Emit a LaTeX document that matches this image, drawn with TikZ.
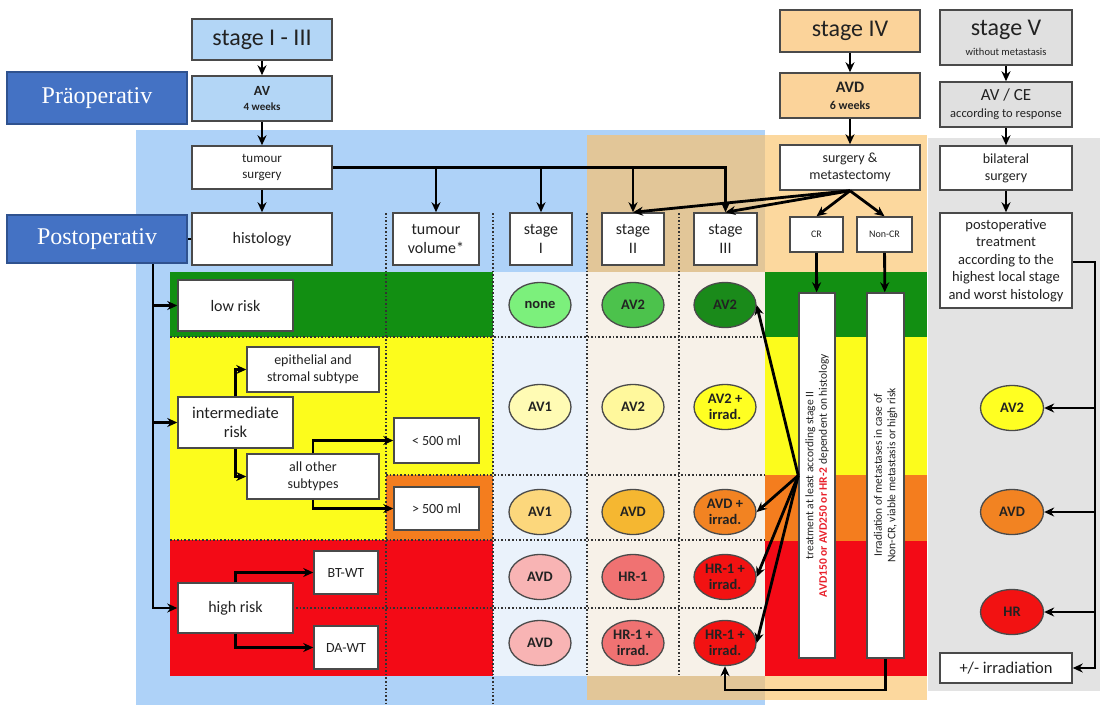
\documentclass[tikz,border=0pt]{standalone}
\usepackage{fontspec}
\setmainfont{Carlito}
\newfontfamily\serifbox{Liberation Serif}
\usetikzlibrary{arrows.meta,shapes.geometric}
\definecolor{bgBlue}{HTML}{AED2F8}
\definecolor{bgTan}{HTML}{E2C698}
\definecolor{bgPeach}{HTML}{FCD89E}
\definecolor{bgGrey}{HTML}{E3E3E3}
\definecolor{bandGreen}{HTML}{128F12}
\definecolor{bandYellow}{HTML}{FCFC1C}
\definecolor{bandOrange}{HTML}{F47D1E}
\definecolor{bandRed}{HTML}{F30A16}
\definecolor{colOne}{HTML}{EAF2FB}
\definecolor{colTwo}{HTML}{F7F1E8}
\definecolor{boxBlue}{HTML}{B3D6F6}
\definecolor{boxPeach}{HTML}{FBD39A}
\definecolor{boxGrey}{HTML}{E0E0E0}
\definecolor{labBlue}{HTML}{4472C4}
\definecolor{labEdge}{HTML}{2F528F}
\definecolor{edgeGrey}{HTML}{4A4A4A}
\definecolor{txt}{HTML}{222222}
\definecolor{dotGrey}{HTML}{333333}
\definecolor{redTxt}{HTML}{E8202A}
\definecolor{eGreenA}{HTML}{7CF07C}
\definecolor{eGreenB}{HTML}{4CC24C}
\definecolor{eGreenC}{HTML}{1A8A1A}
\definecolor{eYelA}{HTML}{FFFBB4}
\definecolor{eYelB}{HTML}{FFF89C}
\definecolor{eYelC}{HTML}{FFFF22}
\definecolor{eOrA}{HTML}{FCD77C}
\definecolor{eOrB}{HTML}{F5B731}
\definecolor{eOrC}{HTML}{F28322}
\definecolor{eRedA}{HTML}{F8B4B4}
\definecolor{eRedB}{HTML}{F07272}
\definecolor{eRedC}{HTML}{F21212}
\tikzset{
  box/.style={draw=edgeGrey, line width=1.5pt, fill=white, align=center, inner sep=1pt, text=txt},
  lab/.style={draw=labEdge, line width=1.3pt, fill=labBlue, text=white, inner sep=0pt,
    font=\serifbox\fontsize{24}{28}\selectfont, minimum width=180},
  ell/.style={ellipse, draw=edgeGrey, line width=1.3pt, minimum width=62, minimum height=45,
    inner sep=0pt, align=center, text=txt, font=\fontsize{14.5}{16}\selectfont\bfseries},
  arr/.style={-{Stealth[length=10pt,width=9pt]}, line width=2.8pt},
  dots/.style={dotted, line width=1.6pt, draw=dotGrey},
  fa/.style={font=\fontsize{24}{28}\selectfont},
  fb/.style={font=\fontsize{16}{18.5}\selectfont},
  fc/.style={font=\fontsize{14}{17}\selectfont},
  fd/.style={font=\fontsize{13}{16}\selectfont},
  fe/.style={font=\fontsize{10}{12}\selectfont}
}
\begin{document}
\begin{tikzpicture}[x=1pt,y=-1pt]
\useasboundingbox (0,0) rectangle (1100,705);
\fill[white] (0,0) rectangle (1100,705);
% background regions
\fill[bgBlue] (136,130) rectangle (765,705);
\fill[bgTan] (587,135) rectangle (765,700);
\fill[bgPeach] (765,135) rectangle (927,700);
\fill[bgGrey] (928,138) rectangle (1100,691);
% risk bands
\fill[bandGreen] (170,272) rectangle (493,337);
\fill[bandYellow] (170,337) rectangle (386,540);
\fill[bandYellow] (386,337) rectangle (493,475);
\fill[bandOrange] (386,475) rectangle (493,540);
\fill[bandRed] (170,540) rectangle (493,676);
\fill[bandGreen] (765,272) rectangle (927,337);
\fill[bandYellow] (765,337) rectangle (927,475);
\fill[bandOrange] (765,475) rectangle (927,541);
\fill[bandRed] (765,541) rectangle (927,676);
\fill[colOne] (493,272) rectangle (587,676);
\fill[colTwo] (587,272) rectangle (765,676);
% dotted grid
\draw[dots] (386,213) -- (386,705);
\draw[dots] (493,213) -- (493,705);
\draw[dots] (587,213) -- (587,676);
\draw[dots] (679,213) -- (679,676);
\draw[dots] (170,337) -- (765,337);
\draw[dots] (386,475) -- (765,475);
\draw[dots] (170,540) -- (765,540);
\draw[dots] (170,608) -- (765,608);

% top left column
\node[box, fill=boxBlue, fa, minimum width=140, minimum height=41] (s13) at (262,39.5) {stage I - III};
\node[box, fill=boxBlue, minimum width=140, minimum height=45, font=\fontsize{14}{15}\selectfont\bfseries] (av) at (262,98.5) {AV\\{\fontsize{11}{13}\selectfont 4 weeks}};
\node[box, fd, minimum width=140, minimum height=43] (ts) at (262,167.5) {tumour\\surgery};
\node[box, fb, minimum width=140, minimum height=52] (hist) at (262,239) {histology};
\node[lab, minimum height=52] (pre) at (97,98) {Präoperativ};

% header row
\node[box, fb, minimum width=86, minimum height=52] (tv) at (436,239) {tumour\\volume*};
\node[box, fb, minimum width=62, minimum height=52] (st1) at (541,239) {stage\\I};
\node[box, fb, minimum width=62, minimum height=52] (st2) at (633,239) {stage\\II};
\node[box, fb, minimum width=63, minimum height=52] (st3) at (725.5,239) {stage\\III};

% stage IV
\node[box, fill=boxPeach, fa, minimum width=140, minimum height=42] (s4) at (850,31) {stage IV};
\node[box, fill=boxPeach, minimum width=140, minimum height=45, font=\fontsize{16}{17}\selectfont\bfseries] (avd) at (850,95.5) {AVD\\{\fontsize{12}{14}\selectfont 6 weeks}};
\node[box, fc, minimum width=140, minimum height=45] (sm) at (850,167.5) {surgery \&\\metastectomy};
\node[box, fe, minimum width=53, minimum height=35] (cr) at (816.5,234.5) {CR};
\node[box, fe, minimum width=55, minimum height=35] (ncr) at (884.5,234.5) {Non-CR};
\node[box, minimum width=36, minimum height=365] (b1) at (817,475.5) {};
\node[box, minimum width=37, minimum height=365] (b2) at (885.5,475.5) {};
\node[rotate=90, align=center, text=txt, inner sep=0pt, font=\fontsize{11.5}{13.5}\selectfont] (t1) at (b1.center) {treatment at least according stage II\\\textcolor{redTxt}{\bfseries AVD150 or AVD250 or HR-2} dependent on histology};
\node[rotate=90, align=center, text=txt, inner sep=0pt, font=\fontsize{11.5}{13.5}\selectfont] (t2) at (b2.center) {Irradiation of metastases in case of\\Non-CR, viable metastasis or high risk};

% stage V
\node[box, fill=boxGrey, minimum width=132, minimum height=55, font=\fontsize{24}{20}\selectfont] (s5) at (1006,37.5) {stage V\\{\fontsize{10.5}{12}\selectfont without metastasis}};
\node[box, fill=boxGrey, minimum width=132, minimum height=45, font=\fontsize{17}{17}\selectfont] (avce) at (1006,104.5) {AV / CE\\{\fontsize{12.5}{14}\selectfont according to response}};
\node[box, fc, minimum width=132, minimum height=44] (bil) at (1006,168) {bilateral\\surgery};
\node[box, font=\fontsize{14.5}{17.5}\selectfont, minimum width=132, minimum height=95] (post) at (1006,260.5) {postoperative\\treatment\\according to the\\highest local stage\\and worst histology};
\node[ell, fill=eYelC, minimum width=63] (v1) at (1012,408) {AV2};
\node[ell, fill=eOrC, minimum width=63] (v2) at (1012,512) {AVD};
\node[ell, fill=eRedC, minimum width=63] (v3) at (1012,612) {HR};
\node[box, font=\fontsize{16.5}{18}\selectfont, minimum width=132, minimum height=30] (irr) at (1006,668) {+/- irradiation};

% risk column
\node[box, fb, minimum width=115, minimum height=51] (low) at (235.5,305.5) {low risk};
\node[box, fc, minimum width=132, minimum height=45] (epi) at (313,369.5) {epithelial and\\stromal subtype};
\node[box, font=\fontsize{16.5}{19}\selectfont, minimum width=115, minimum height=51] (inter) at (235.5,422.5) {intermediate\\risk};
\node[box, fc, minimum width=132, minimum height=45] (oth) at (313,476.5) {all other\\subtypes};
\node[box, fc, minimum width=85, minimum height=45] (lt) at (436.5,440.5) {< 500 ml};
\node[box, fc, minimum width=85, minimum height=43] (gt) at (436.5,508.5) {> 500 ml};
\node[box, fc, minimum width=64, minimum height=43] (bt) at (346,572.5) {BT-WT};
\node[box, fb, minimum width=115, minimum height=50] (high) at (235.5,608) {high risk};
\node[box, fc, minimum width=64, minimum height=43] (da) at (346,647.5) {DA-WT};

% ellipses in stage columns
\node[ell, fill=eGreenA] (e11) at (540,305) {none};
\node[ell, fill=eGreenB] (e12) at (633,305) {AV2};
\node[ell, fill=eGreenC] (e13) at (725,305) {AV2};
\node[ell, fill=eYelA] (e21) at (540,407) {AV1};
\node[ell, fill=eYelB] (e22) at (633,407) {AV2};
\node[ell, fill=eYelC] (e23) at (725,407) {AV2 +\\irrad.};
\node[ell, fill=eOrA] (e31) at (540,512) {AV1};
\node[ell, fill=eOrB] (e32) at (633,512) {AVD};
\node[ell, fill=eOrC] (e33) at (725,512) {AVD +\\irrad.};
\node[ell, fill=eRedA] (e41) at (540,577) {AVD};
\node[ell, fill=eRedB] (e42) at (633,577) {HR-1};
\node[ell, fill=eRedC] (e43) at (725,577) {HR-1 +\\irrad.};
\node[ell, fill=eRedA] (e51) at (540,643) {AVD};
\node[ell, fill=eRedB] (e52) at (633,643) {HR-1 +\\irrad.};
\node[ell, fill=eRedC] (e53) at (725,643) {HR-1 +\\irrad.};

% connectors: stage I-III
\draw[arr] (s13) -- (av);
\draw[arr] (av) -- (ts);
\draw[arr] (ts) -- (hist);
\draw[arr] (ts.east) -| (st3.north);
\draw[arr] (ts.east -| tv.north) -- (tv.north);
\draw[arr] (ts.east -| st1.north) -- (st1.north);
\draw[arr] (ts.east -| st2.north) -- (st2.north);
\coordinate (trunk) at (153,239);
\draw[arr] (hist.west) -- (trunk) |- (high.west);
\draw[arr] (trunk |- low.west) -- (low.west);
\draw[arr] (trunk |- inter.west) -- (inter.west);
\draw[arr] (inter.north) |- (epi.west);
\draw[arr] (inter.south) |- (oth.west);
\draw[arr] (oth.north) |- (lt.west);
\draw[arr] (oth.south) |- (gt.west);
\draw[arr] (high.north) |- (bt.west);
\draw[arr] (high.south) |- (da.west);
\node[lab, minimum height=48] (postop) at (97,239) {Postoperativ};

% stage IV connectors
\draw[arr] (s4) -- (avd);
\draw[arr] (avd) -- (sm);
\draw[arr] (sm.south) -- (st2.north);
\draw[arr] (sm.south) -- (st3.north);
\draw[arr] (sm.south) -- (cr.north);
\draw[arr] (sm.south) -- (ncr.north);
\draw[arr] (cr) -- (b1);
\draw[arr] (ncr) -- (b2);
\draw[arr] (b1.west) -- (e13.east);
\draw[arr] (b1.west) -- (e33.east);
\draw[arr] (b1.west) -- (e43.east);
\draw[arr] (b1.west) -- (e53.east);
\coordinate (lowturn) at (885.5,690);
\draw[arr] (b2.south) -- (lowturn) -| (e53.south);

% stage V connectors
\draw[arr] (s5) -- (avce);
\draw[arr] (avce) -- (bil);
\draw[arr] (bil) -- (post);
\coordinate (rtrunk) at (1095,262);
\draw[arr] (post.east |- rtrunk) -- (rtrunk) |- (irr.east);
\draw[arr] (rtrunk |- v1.east) -- (v1.east);
\draw[arr] (rtrunk |- v2.east) -- (v2.east);
\draw[arr] (rtrunk |- v3.east) -- (v3.east);
\end{tikzpicture}
\end{document}
